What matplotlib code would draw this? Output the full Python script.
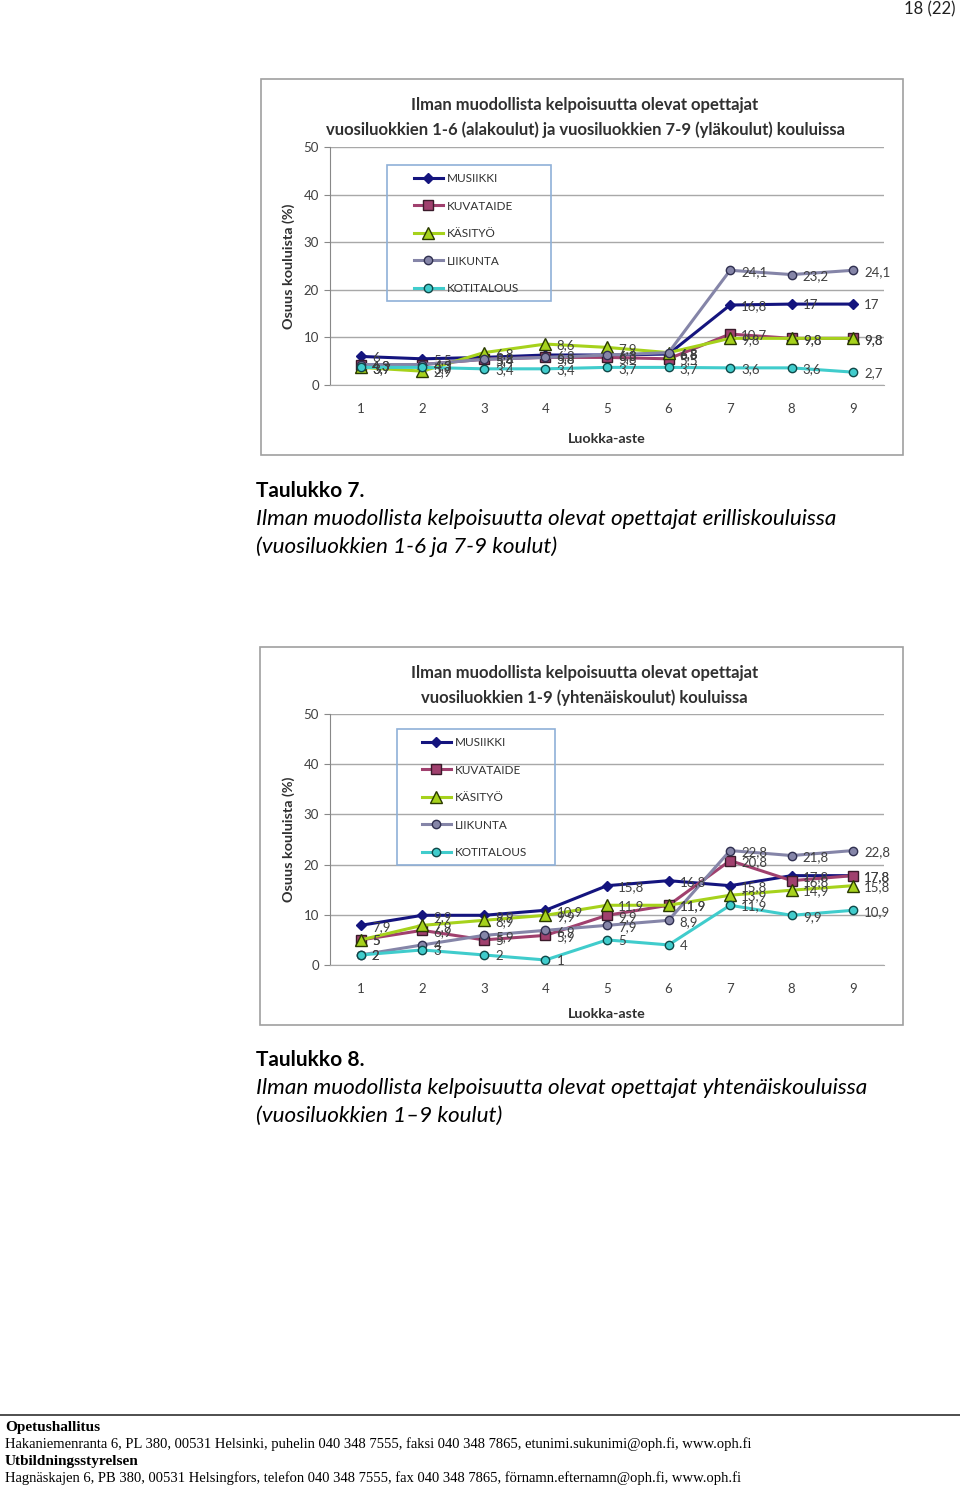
import matplotlib
matplotlib.use("Agg")
import matplotlib.pyplot as plt
from matplotlib.patches import Rectangle

W, H = 960, 1490

# ============================================================
# data
grades = [1, 2, 3, 4, 5, 6, 7, 8, 9]
series_names = ["MUSIIKKI", "KUVATAIDE", "KÄSITYÖ", "LIIKUNTA", "KOTITALOUS"]

# Taulukko 7 (erilliskoulut)
t7_musiikki = [6, 5.5, 5.8, 6.3, 6.3, 6.5, 16.8, 17, 17]
t7_kuvataide = [4.3, 4.3, 5.4, 5.8, 5.8, 5.5, 10.7, 9.8, 9.8]
t7_kasityo = [3.7, 2.9, 6.8, 8.6, 7.9, 6.8, 9.8, 9.8, 9.8]
t7_liikunta = [4.3, 4.3, 5.4, 5.8, 6.3, 6.8, 24.1, 23.2, 24.1]
t7_kotitalous = [3.7, 3.7, 3.4, 3.4, 3.7, 3.7, 3.6, 3.6, 2.7]

# Taulukko 8 (yhtenäiskoulut)
t8_musiikki = [7.9, 9.9, 9.9, 10.9, 15.8, 16.8, 15.8, 17.8, 17.8]
t8_kuvataide = [5, 6.9, 5, 5.9, 9.9, 11.9, 20.8, 16.8, 17.8]
t8_kasityo = [5, 7.9, 8.9, 9.9, 11.9, 11.9, 13.9, 14.9, 15.8]
t8_liikunta = [2, 4, 5.9, 6.9, 7.9, 8.9, 22.8, 21.8, 22.8]
t8_kotitalous = [2, 3, 2, 1, 5, 4, 11.9, 9.9, 10.9]

styles = [
    dict(color="#14147e", marker="D", ms=5.5, mfc="#14147e", mec="#14147e"),
    dict(color="#a0406e", marker="s", ms=7, mfc="#a0406e", mec="#3a1a2a"),
    dict(color="#a6d21c", marker="^", ms=8, mfc="#a6d21c", mec="#2a3a00"),
    dict(color="#8585a8", marker="o", ms=6, mfc="#8585a8", mec="#303050"),
    dict(color="#40cccc", marker="o", ms=6, mfc="#40cccc", mec="#104848"),
]

FONT = ["Lato", "DejaVu Sans"]
plt.rcParams["font.family"] = FONT


def rect(l, t, r, b):
    return [l / W, 1 - b / H, (r - l) / W, (b - t) / H]


def frame(fig, l, t, r, b, color, lw):
    fig.patches.append(Rectangle((l / W, 1 - b / H), (r - l) / W, (b - t) / H,
                                 transform=fig.transFigure, fill=False,
                                 edgecolor=color, lw=lw, zorder=5))


def draw_chart(fig, box, plot, title, values, leg_frame, leg_start, xpad):
    # chart frame
    frame(fig, *box, "#a0a0a0", 1.2)
    cx = (box[0] + box[2]) / 2 + 3
    fig.text(cx / W, 1 - (box[1] + 26) / H, title[0], ha="center", va="center",
             fontsize=12, fontweight="bold", color="#303030")
    fig.text(cx / W, 1 - (box[1] + 51) / H, title[1], ha="center", va="center",
             fontsize=12, fontweight="bold", color="#303030")

    ax = fig.add_axes(rect(*plot))
    for name, vals, st in zip(series_names, values, styles):
        ax.plot(grades, vals, lw=2.2, label=name, **st)
        for g, v in zip(grades, vals):
            ax.annotate(f"{v:g}".replace(".", ","), (g, v), xytext=(8, -1),
                        textcoords="offset points", fontsize=9.5, color="#404040",
                        va="center")
    ax.set_xlim(0.5, 9.5)
    ax.set_ylim(0, 50)
    ax.set_yticks([0, 10, 20, 30, 40, 50])
    ax.set_xticks(grades)
    ax.tick_params(axis="y", length=4, color="#888888", labelsize=9.5, labelcolor="#404040", pad=4)
    ax.tick_params(axis="x", length=0, labelsize=9.5, labelcolor="#404040", pad=13)
    ax.grid(axis="y", color="#a8a8a8", lw=1)
    ax.set_axisbelow(True)
    for s in ["top", "right"]:
        ax.spines[s].set_visible(False)
    ax.spines["left"].set_color("#888888")
    ax.spines["bottom"].set_color("#a8a8a8")
    ax.set_ylabel("Osuus kouluista (%)", fontsize=10.4, fontweight="bold", color="#303030", labelpad=6)
    ax.set_xlabel("Luokka-aste", fontsize=10.3, fontweight="bold", color="#303030", labelpad=xpad)

    # legend: frame drawn separately so its padding matches the original
    frame(fig, *leg_frame, "#8fb0d8", 1.2)
    leg = ax.legend(loc="upper left", bbox_to_anchor=(leg_start[0] / W, 1 - leg_start[1] / H),
                    bbox_transform=fig.transFigure, frameon=False,
                    fontsize=8.5, labelspacing=1.4, handlelength=2.45, borderpad=0,
                    handletextpad=0.3, borderaxespad=0)
    for t in leg.get_texts():
        t.set_color("#303030")
    return ax


fig = plt.figure(figsize=(W / 100, H / 100), dpi=100)
fig.patch.set_facecolor("white")

fig.text(955 / W, 1 - 9 / H, "18 (22)", ha="right", va="center", fontsize=12, color="#202020")

draw_chart(fig, (261, 79, 903, 455), (330, 147, 884, 385),
           ["Ilman muodollista kelpoisuutta olevat opettajat",
            "vuosiluokkien 1-6 (alakoulut) ja vuosiluokkien 7-9 (yläkoulut) kouluissa"],
           [t7_musiikki, t7_kuvataide, t7_kasityo, t7_liikunta, t7_kotitalous],
           (387, 165, 551, 301), (414, 173), 13)

draw_chart(fig, (260, 647, 903, 1025), (330, 714, 884, 965),
           ["Ilman muodollista kelpoisuutta olevat opettajat",
            "vuosiluokkien 1-9 (yhtenäiskoulut) kouluissa"],
           [t8_musiikki, t8_kuvataide, t8_kasityo, t8_liikunta, t8_kotitalous],
           (397, 729, 555, 865), (422, 737), 9.4)

# captions
fig.text(256 / W, 1 - 491 / H, "Taulukko 7.", fontsize=15, fontweight="bold", va="center")
fig.text(256 / W, 1 - 519 / H, "Ilman muodollista kelpoisuutta olevat opettajat erilliskouluissa",
         fontsize=16.2, style="italic", va="center")
fig.text(256 / W, 1 - 547 / H, "(vuosiluokkien 1-6 ja 7-9 koulut)", fontsize=16.2, style="italic", va="center")

fig.text(256 / W, 1 - 1060 / H, "Taulukko 8.", fontsize=15, fontweight="bold", va="center")
fig.text(256 / W, 1 - 1088 / H, "Ilman muodollista kelpoisuutta olevat opettajat yhtenäiskouluissa",
         fontsize=16.2, style="italic", va="center")
fig.text(256 / W, 1 - 1116 / H, "(vuosiluokkien 1–9 koulut)", fontsize=16.2, style="italic", va="center")

# footer
fig.add_artist(plt.Line2D([0, 1], [1 - 1415 / H, 1 - 1415 / H], transform=fig.transFigure,
                          color="#303030", lw=1.2))
serif = ["Liberation Serif", "DejaVu Serif"]
fig.text(5 / W, 1 - 1427 / H, "Opetushallitus", fontsize=11, fontweight="bold", family=serif, va="center")
fig.text(5 / W, 1 - 1444 / H,
         "Hakaniemenranta 6, PL 380, 00531 Helsinki, puhelin 040 348 7555, faksi 040 348 7865, "
         "etunimi.sukunimi@oph.fi, www.oph.fi", fontsize=10.5, family=serif, va="center")
fig.text(5 / W, 1 - 1461 / H, "Utbildningsstyrelsen", fontsize=11, fontweight="bold", family=serif, va="center")
fig.text(5 / W, 1 - 1478 / H,
         "Hagnäskajen 6, PB 380, 00531 Helsingfors, telefon 040 348 7555, fax 040 348 7865, "
         "förnamn.efternamn@oph.fi, www.oph.fi", fontsize=10.5, family=serif, va="center")

fig.savefig("out.png", dpi=100)
